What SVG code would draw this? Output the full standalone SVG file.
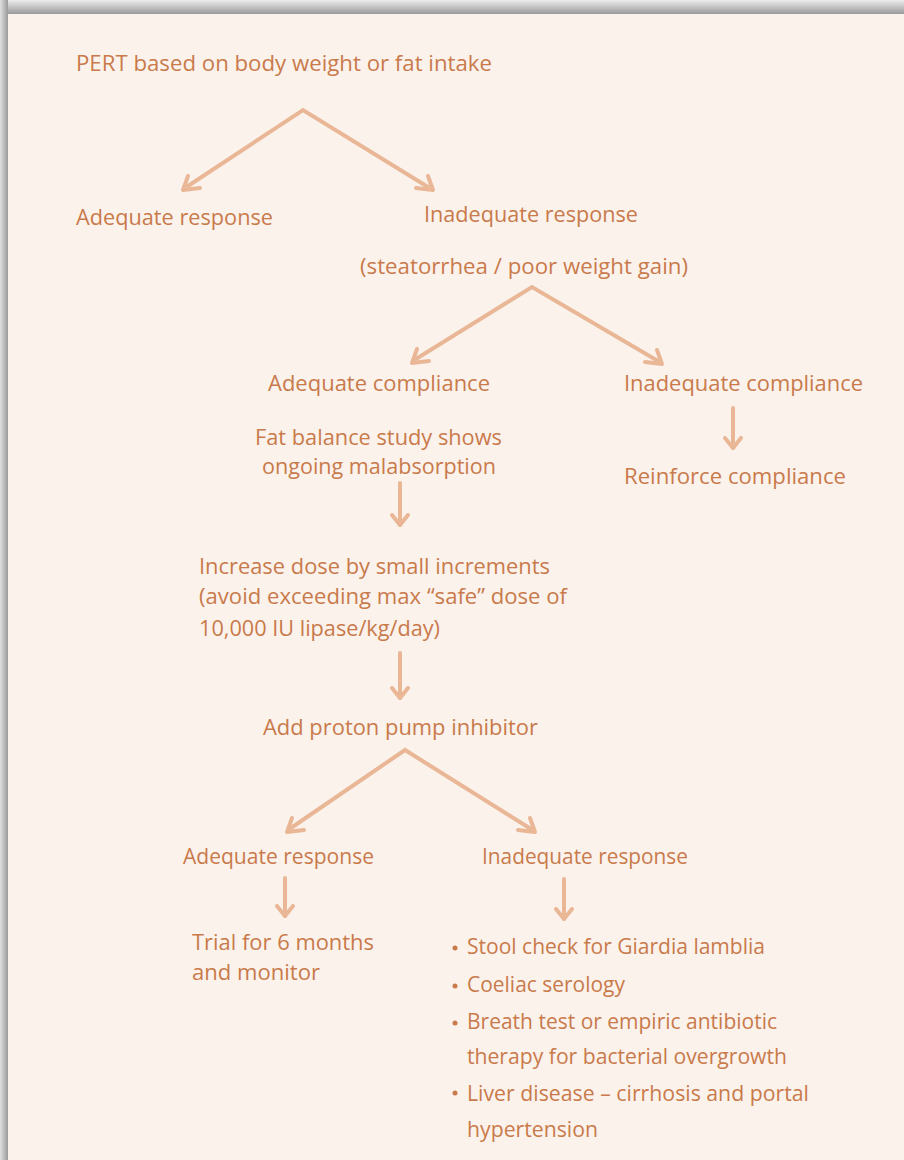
<svg xmlns="http://www.w3.org/2000/svg" width="904" height="1160" viewBox="0 0 904 1160">
<defs>
<linearGradient id="topsh" x1="0" y1="0" x2="0" y2="1">
<stop offset="0" stop-color="#ececec"/>
<stop offset="1" stop-color="#9a9a9a"/>
</linearGradient>
<linearGradient id="leftsh" x1="0" y1="0" x2="1" y2="0">
<stop offset="0" stop-color="#e0e0e0"/>
<stop offset="1" stop-color="#9a9a9a"/>
</linearGradient>
<marker id="ah" viewBox="-12 -10 14 20" markerWidth="14" markerHeight="20" refX="0" refY="0" orient="auto" markerUnits="userSpaceOnUse">
<polyline points="-10,-8 0,0 -10,8" fill="none" stroke="#E9B796" stroke-width="4" stroke-linecap="round" stroke-linejoin="round"/>
</marker>
</defs>
<style>
.t{font-family:"Open Sans","Liberation Sans",sans-serif;font-size:22px;fill:#C97A4B;}
.c{fill:none;stroke:#E9B796;stroke-width:4;stroke-linecap:round;}
</style>
<rect x="0" y="0" width="904" height="1160" fill="#ffffff"/>
<rect x="0" y="0" width="904" height="14" fill="url(#topsh)"/>
<rect x="0" y="0" width="8" height="1160" fill="url(#leftsh)"/>
<rect x="8" y="14" width="896" height="1146" fill="#FBF2EC"/>

<g id="connectors">
<polyline class="c" points="188,186 303,110 428,187"/>
<path class="c" d="M183,190 L200,188 M183,190 L188,176"/>
<path class="c" d="M433,190 L416,188 M433,190 L428,176"/>

<polyline class="c" points="416,359 532,287 658,361"/>
<path class="c" d="M412,363 L429,361 M412,363 L417,349"/>
<path class="c" d="M662,364 L645,362 M662,364 L657,350"/>

<polyline class="c" points="291,828 405,750 531,829"/>
<path class="c" d="M287,832 L304,830 M287,832 L292,818"/>
<path class="c" d="M535,832 L518,830 M535,832 L530,818"/>

<line class="c" x1="733" y1="408" x2="733" y2="448" marker-end="url(#ah)"/>
<line class="c" x1="400" y1="483" x2="400" y2="525" marker-end="url(#ah)"/>
<line class="c" x1="400" y1="653" x2="400" y2="698" marker-end="url(#ah)"/>
<line class="c" x1="285" y1="878" x2="285" y2="916" marker-end="url(#ah)"/>
<line class="c" x1="564" y1="879" x2="564" y2="919" marker-end="url(#ah)"/>
</g>

<g id="n-pert"><text class="t" x="76" y="71" textLength="416" lengthAdjust="spacingAndGlyphs">PERT based on body weight or fat intake</text></g>
<g id="n-adeq1"><text class="t" x="76" y="225" textLength="197" lengthAdjust="spacingAndGlyphs">Adequate response</text></g>
<g id="n-inadeq1">
<text class="t" x="424" y="222" textLength="214" lengthAdjust="spacingAndGlyphs">Inadequate response</text>
<text class="t" x="360" y="274" textLength="328" lengthAdjust="spacingAndGlyphs">(steatorrhea / poor weight gain)</text>
</g>
<g id="n-adcomp"><text class="t" x="268" y="391" textLength="222" lengthAdjust="spacingAndGlyphs">Adequate compliance</text></g>
<g id="n-inadcomp"><text class="t" x="624" y="391" textLength="239" lengthAdjust="spacingAndGlyphs">Inadequate compliance</text></g>
<g id="n-reinforce"><text class="t" x="624" y="484" textLength="222" lengthAdjust="spacingAndGlyphs">Reinforce compliance</text></g>
<g id="n-fat">
<text class="t" x="255" y="445" textLength="247" lengthAdjust="spacingAndGlyphs">Fat balance study shows</text>
<text class="t" x="262" y="474" textLength="234" lengthAdjust="spacingAndGlyphs">ongoing malabsorption</text>
</g>
<g id="n-increase">
<text class="t" x="199" y="574" textLength="351" lengthAdjust="spacingAndGlyphs">Increase dose by small increments</text>
<text class="t" x="199" y="604" textLength="368" lengthAdjust="spacingAndGlyphs">(avoid exceeding max “safe” dose of</text>
<text class="t" x="199" y="636" textLength="241" lengthAdjust="spacingAndGlyphs">10,000 IU lipase/kg/day)</text>
</g>
<g id="n-ppi"><text class="t" x="263" y="735" textLength="275" lengthAdjust="spacingAndGlyphs">Add proton pump inhibitor</text></g>
<g id="n-adeq2"><text class="t" x="183" y="864" textLength="191" lengthAdjust="spacingAndGlyphs">Adequate response</text></g>
<g id="n-inadeq2"><text class="t" x="482" y="864" textLength="206" lengthAdjust="spacingAndGlyphs">Inadequate response</text></g>
<g id="n-trial">
<text class="t" x="192" y="950" textLength="182" lengthAdjust="spacingAndGlyphs">Trial for 6 months</text>
<text class="t" x="192" y="980" textLength="128" lengthAdjust="spacingAndGlyphs">and monitor</text>
</g>
<g id="n-list">
<circle cx="455" cy="948" r="2.5" fill="#C97A4B"/>
<text class="t" x="467" y="954" textLength="298" lengthAdjust="spacingAndGlyphs">Stool check for Giardia lamblia</text>
<circle cx="455" cy="986" r="2.5" fill="#C97A4B"/>
<text class="t" x="467" y="992" textLength="158" lengthAdjust="spacingAndGlyphs">Coeliac serology</text>
<circle cx="455" cy="1023" r="2.5" fill="#C97A4B"/>
<text class="t" x="467" y="1029" textLength="310" lengthAdjust="spacingAndGlyphs">Breath test or empiric antibiotic</text>
<text class="t" x="467" y="1064" textLength="320" lengthAdjust="spacingAndGlyphs">therapy for bacterial overgrowth</text>
<circle cx="455" cy="1093" r="2.5" fill="#C97A4B"/>
<text class="t" x="467" y="1101" textLength="342" lengthAdjust="spacingAndGlyphs">Liver disease – cirrhosis and portal</text>
<text class="t" x="467" y="1137" textLength="131" lengthAdjust="spacingAndGlyphs">hypertension</text>
</g>
</svg>
